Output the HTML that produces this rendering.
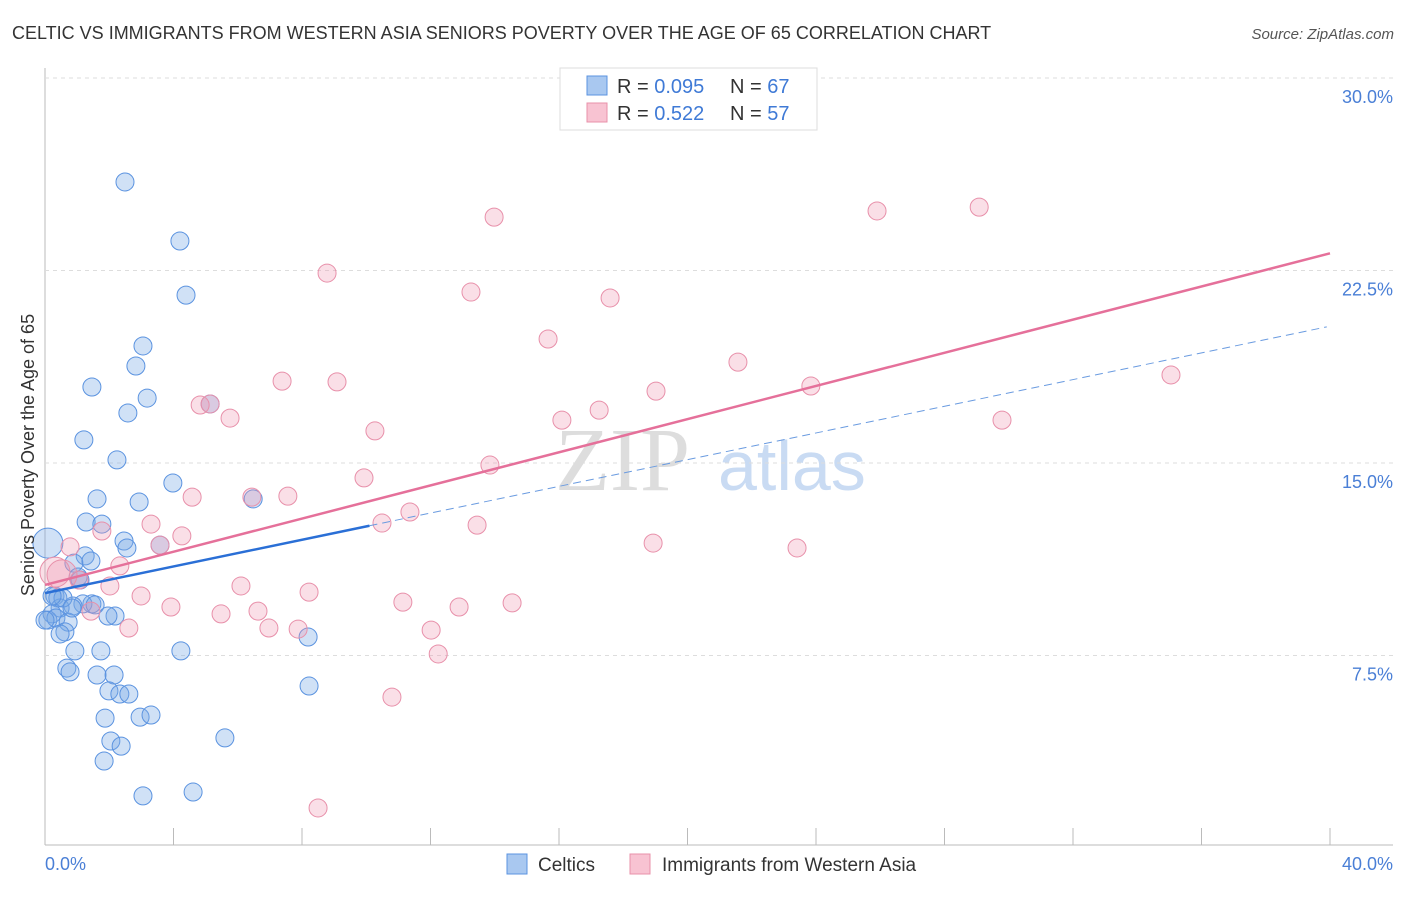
<!DOCTYPE html>
<html><head><meta charset="utf-8"><style>
body{margin:0;background:#fff;font-family:"Liberation Sans",sans-serif;}
</style></head><body>
<svg id="chart" width="1406" height="892" xmlns="http://www.w3.org/2000/svg">
<text x="12" y="39" font-size="18" fill="#333">CELTIC VS IMMIGRANTS FROM WESTERN ASIA SENIORS POVERTY OVER THE AGE OF 65 CORRELATION CHART</text>
<text x="1394" y="39" font-size="15" fill="#555" font-style="italic" text-anchor="end">Source: ZipAtlas.com</text>
<g>
<text x="555" y="490" font-size="90" font-family="Liberation Serif,serif" fill="#ddd">ZIP</text>
<text x="718" y="490" font-size="70" fill="#c9dbf3">atlas</text>
</g>
<g id="grid"></g>
<g id="pts"></g>
<g id="trend"></g>
<text transform="translate(34,455) rotate(-90)" font-size="18" fill="#333" text-anchor="middle">Seniors Poverty Over the Age of 65</text>
<g>
<rect x="560" y="68" width="257" height="62" fill="#fff" stroke="#ddd"/>
<rect x="587" y="76" width="20" height="19" fill="#a9c8f0" stroke="#5b93e0"/>
<rect x="587" y="103" width="20" height="19" fill="#f8c3d2" stroke="#e890aa"/>
<text x="617" y="93" font-size="20" fill="#333">R = <tspan fill="#3f7ad6">0.095</tspan></text>
<text x="730" y="93" font-size="20" fill="#333">N = <tspan fill="#3f7ad6">67</tspan></text>
<text x="617" y="120" font-size="20" fill="#333">R = <tspan fill="#3f7ad6"> 0.522</tspan></text>
<text x="730" y="120" font-size="20" fill="#333">N = <tspan fill="#3f7ad6">57</tspan></text>
</g>
<g>
<rect x="507" y="854" width="20" height="20" fill="#a9c8f0" stroke="#5b93e0"/>
<text x="538" y="871" font-size="19" fill="#333">Celtics</text>
<rect x="630" y="854" width="20" height="20" fill="#f8c3d2" stroke="#e890aa"/>
<text x="662" y="871" font-size="19" fill="#333">Immigrants from Western Asia</text>
</g>
</svg>
<script>
const xTicks=[0,5,10,15,20,25,30,35,40];
const yTicks=[7.5,15,22.5,30];
const yTickLabels=["7.5%","15.0%","22.5%","30.0%"];
const xEndLabels=["0.0%","40.0%"];
const celticsX=[2.49,4.20,4.39,3.05,2.83,1.46,3.18,2.58,1.21,2.24,3.98,1.62,2.93,6.48,1.28,1.77,2.46,2.55,1.25,0.90,1.43,1.03,1.09,0.31,0.40,1.46,1.18,0.87,1.56,0.47,0.22,0.09,0.34,0.72,0.62,0.47,5.14,0.93,1.74,4.23,8.19,0.68,0.78,1.62,2.15,1.99,2.33,2.61,1.87,2.96,3.30,2.05,2.37,1.84,5.60,8.22,3.05,4.61,3.58,2.18,1.96,0.56,0.22,0.00,0.84,0.09];
const celticsY=[25.95,23.65,21.54,19.56,18.78,17.96,17.53,16.95,15.90,15.12,14.22,13.60,13.48,13.60,12.70,12.62,11.96,11.69,11.38,11.10,11.18,10.56,10.44,9.82,9.74,9.51,9.51,9.43,9.47,9.35,9.12,8.88,8.96,8.80,8.42,8.34,17.30,7.68,7.68,7.68,8.22,7.01,6.86,6.74,6.74,6.12,6.00,6.00,5.06,5.10,5.18,4.17,3.97,3.39,4.29,6.31,2.03,2.18,11.80,9.04,9.04,9.74,9.82,8.88,9.35,11.88];
const immX=[13.98,25.90,29.08,8.78,13.26,17.59,15.66,21.57,35.05,7.38,9.09,19.02,23.84,4.83,5.76,17.25,16.09,29.79,10.27,13.85,9.93,4.58,6.44,7.56,11.36,10.49,13.45,3.30,4.26,1.77,18.93,23.41,0.78,2.33,2.02,6.10,1.06,2.99,8.22,11.14,14.54,3.92,6.63,12.89,5.48,1.43,2.61,6.97,7.88,12.02,12.24,10.80,8.50,3.58,5.14,0.31,0.53];
const immY=[24.58,24.82,24.97,22.40,21.66,21.43,19.83,18.93,18.43,18.19,18.16,17.80,18.00,17.26,16.75,17.06,16.67,16.67,16.25,14.92,14.42,13.67,13.67,13.71,13.09,12.66,12.58,12.62,12.16,12.35,11.88,11.69,11.73,10.99,10.21,10.21,10.44,9.82,9.97,9.58,9.55,9.39,9.23,9.39,9.12,9.23,8.57,8.57,8.53,8.49,7.56,5.88,1.56,11.80,17.30,10.75,10.64];
const celticsTrend=[9.93,0.26];
const immTrend=[10.25,0.323];
const X=v=>45+v/40*1285, Y=v=>848-v/7.5*192.5;
const NS="http://www.w3.org/2000/svg";
function mk(t,a,p){const e=document.createElementNS(NS,t);for(const k in a)e.setAttribute(k,a[k]);p.appendChild(e);return e;}
const g=document.getElementById('grid');
mk('line',{x1:45,y1:68,x2:45,y2:845,stroke:'#bbb'},g);
mk('line',{x1:45,y1:845,x2:1393,y2:845,stroke:'#bbb'},g);
yTicks.forEach((t,i)=>{
 const l=mk('line',{x1:45,y1:Y(t),x2:1393,y2:Y(t),stroke:'#ddd','stroke-dasharray':'4,4'},g);
 
 
 const tx=mk('text',{x:1393,y:Y(t)+25,'font-size':18,fill:'#4a7fd6','text-anchor':'end'},g);
 tx.textContent=yTickLabels[i];
 
 
});
for(let i=0;i<=10;i++){const l=mk('line',{x1:X(i*4),y1:828,x2:X(i*4),y2:845,stroke:'#bbb'},g);
 
 }
[[0,45,'start'],[1,1393,'end']].forEach(([i,x,a])=>{const t=mk('text',{x:x,y:870,'font-size':18,fill:'#4a7fd6','text-anchor':a},g);t.textContent=xEndLabels[i];
 
 });
const p=document.getElementById('pts');
celticsX.forEach((x,i)=>{const c=mk('circle',{cx:X(x),cy:Y(celticsY[i]),r:i==celticsX.length-1?15:9,fill:'rgba(120,170,230,0.35)',stroke:'#5b93e0','stroke-width':1},p);
 
 });
immX.forEach((x,i)=>{const c=mk('circle',{cx:X(x),cy:Y(immY[i]),r:i>=immX.length-2?15:9,fill:'rgba(240,150,175,0.3)',stroke:'#e890aa','stroke-width':1},p);
 
 });
const tr=document.getElementById('trend');
let l=mk('line',{x1:X(0),y1:Y(celticsTrend[0]),x2:X(10.1),y2:Y(celticsTrend[0]+celticsTrend[1]*10.1),stroke:'#2a6fd6','stroke-width':2.5},tr);


l=mk('line',{x1:X(10.1),y1:Y(celticsTrend[0]+celticsTrend[1]*10.1),x2:X(39.9),y2:Y(celticsTrend[0]+celticsTrend[1]*39.9),stroke:'#6a9be0','stroke-width':1,'stroke-dasharray':'8,5'},tr);


l=mk('line',{x1:X(0),y1:Y(immTrend[0]),x2:X(40),y2:Y(immTrend[0]+immTrend[1]*40),stroke:'#e5709a','stroke-width':2.5},tr);


</script>
</body></html>
